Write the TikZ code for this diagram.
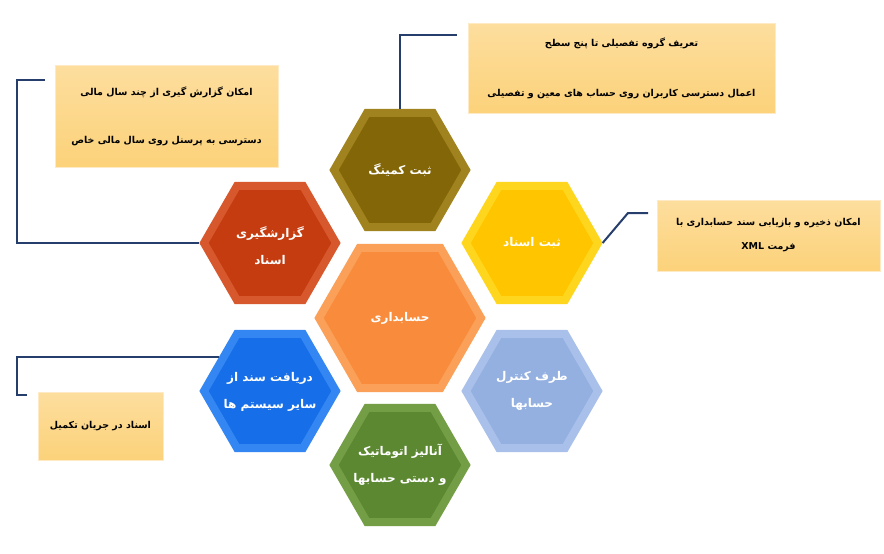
\documentclass[tikz,border=0pt]{standalone}
\usepackage{fontspec}
\newfontfamily\fa[Script=Arabic]{DejaVu Sans}
\usetikzlibrary{shapes.geometric}
\TeXXeTstate=1
\definecolor{navy}{RGB}{38,62,108}
\definecolor{boxtop}{RGB}{253,222,158}
\definecolor{boxbot}{RGB}{252,210,122}
\definecolor{olive}{RGB}{131,102,8}
\definecolor{oliverim}{RGB}{160,130,30}
\definecolor{redm}{RGB}{196,60,16}
\definecolor{redrim}{RGB}{215,88,44}
\definecolor{yelm}{RGB}{255,198,0}
\definecolor{yelrim}{RGB}{255,214,30}
\definecolor{oram}{RGB}{249,140,60}
\definecolor{orarim}{RGB}{251,160,88}
\definecolor{bluem}{RGB}{22,110,232}
\definecolor{bluerim}{RGB}{52,135,242}
\definecolor{lbm}{RGB}{148,176,224}
\definecolor{lbrim}{RGB}{168,192,234}
\definecolor{grnm}{RGB}{92,136,50}
\definecolor{grnrim}{RGB}{116,158,70}
\begin{document}
\begin{tikzpicture}[x=1pt,y=-1pt,
  hexa/.style n args={3}{regular polygon, regular polygon sides=6,
    minimum size=#1, fill=#2, draw=#3, line width=8pt, inner sep=0pt},
  hexlabel/.style={text=white, align=center, inner sep=0pt,
    font=\fa\bfseries\fontsize{12}{27}\selectfont},
  note/.style={rectangle, top color=boxtop, bottom color=boxbot,
    draw=boxtop!60!white, line width=0.6pt, inner sep=0pt, align=center,
    text=black, font=\fa\bfseries\fontsize{9.5}{#1}\selectfont},
  conn/.style={draw=navy, line width=2pt}]
\useasboundingbox (0,0) rectangle (884,554);
\fill[white] (0,0) rectangle (884,554);

% hexagons
\node[hexa={132}{olive}{oliverim}] (h1) at (400,170) {};
\node[hexa={132}{redm}{redrim}] (h2) at (270,243) {};
\node[hexa={132}{yelm}{yelrim}] (h3) at (532,243) {};
\node[hexa={162}{oram}{orarim}] (h0) at (400,318) {};
\node[hexa={132}{bluem}{bluerim}] (h4) at (270,391) {};
\node[hexa={132}{lbm}{lbrim}] (h5) at (532,391) {};
\node[hexa={132}{grnm}{grnrim}] (h6) at (400,465) {};

% hexagon labels
\node[hexlabel] (t1) at (h1.center) {\beginR ثبت کمینگ\endR};
\node[hexlabel] (t2) at ([yshift=-3pt]h2.center) {\beginR گزارشگیری\endR\\\beginR اسناد\endR};
\node[hexlabel] (t3) at (h3.center) {\beginR ثبت اسناد\endR};
\node[hexlabel] (t0) at (h0.center) {\beginR حسابداری\endR};
\node[hexlabel] (t4) at ([yshift=-1pt]h4.center) {\beginR دریافت سند از\endR\\\beginR سایر سیستم ها\endR};
\node[hexlabel] (t5) at (h5.center) {\beginR طرف کنترل\endR\\\beginR حسابها\endR};
\node[hexlabel] (t6) at (h6.center) {\beginR آنالیز اتوماتیک\endR\\\beginR و دستی حسابها\endR};

% notes
\node[note=50, minimum width=307pt, minimum height=90pt] (n1) at (621.5,68)
  {\beginR تعریف گروه تفصیلی تا پنج سطح\endR\\\beginR اعمال دسترسی کاربران روی حساب های معین و تفصیلی\endR};
\node[note=48, minimum width=223pt, minimum height=102pt] (n2) at (166.5,116)
  {\beginR امکان گزارش گیری از چند سال مالی\endR\\\beginR دسترسی به پرسنل روی سال مالی خاص\endR};
\node[note=24, minimum width=223pt, minimum height=71pt] (n3) at (768.5,235.5)
  {\beginR امکان ذخیره و بازیابی سند حسابداری با\endR\\\beginR فرمت \beginL XML\endL\endR};
\node[note=20, minimum width=125pt, minimum height=68pt] (n4) at (100.5,426)
  {\beginR اسناد در جریان تکمیل\endR};

% connector ends
\coordinate (c1) at (457,35);
\coordinate (c2) at (45,80);
\coordinate (c3) at (648,213);
\coordinate (c3b) at (628,213);
\coordinate (c4) at (27,395);

\draw[conn] (h1.north) |- (c1);
\draw[conn] (c2) -- ++(-28,0) |- (h2.west);
\draw[conn] (h3.east) -- (c3b) -- (c3);
\draw[conn] (c4) -- ++(-10,0) |- (h4.146);
\end{tikzpicture}
\end{document}
